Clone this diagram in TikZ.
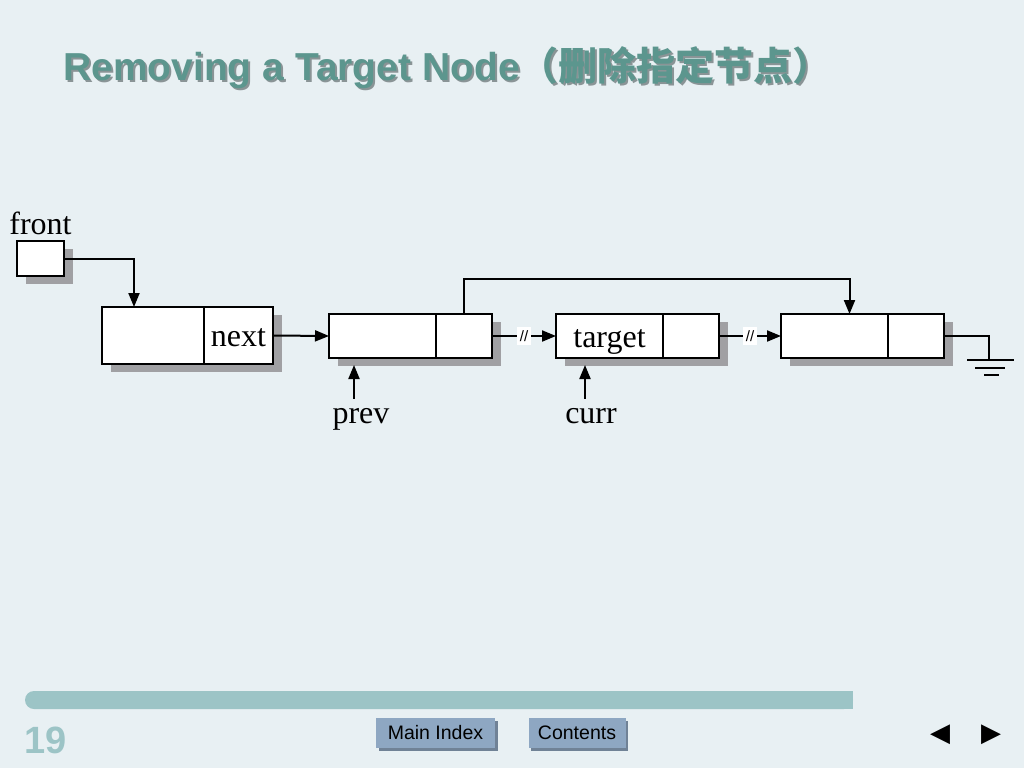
\documentclass[tikz,border=0pt]{standalone}
\usepackage{fontspec}
\setmainfont{Liberation Serif}
\setsansfont{Liberation Sans}
\newfontfamily\cjk{Noto Sans CJK SC}
\newfontfamily\dejavu{DejaVu Sans}
\usetikzlibrary{positioning,shadows,arrows.meta}
\definecolor{slidebg}{RGB}{232,240,243}
\definecolor{titleteal}{RGB}{92,150,142}
\definecolor{titleshade}{RGB}{138,148,150}
\definecolor{barteal}{RGB}{156,196,198}
\definecolor{btnblue}{RGB}{142,167,194}
\definecolor{btnshade}{RGB}{112,130,150}
\definecolor{boxshade}{RGB}{160,160,163}
\newcommand{\slidetitle}{Removing a Target Node{\cjk （删除指定节点）}}
\begin{document}
\begin{tikzpicture}[x=1pt,y=-1pt,
        cell/.style={draw, line width=2.6pt, fill=white, inner sep=0pt, outer sep=0pt,
                minimum height=44pt, font=\fontsize{32}{36}\selectfont,
                text height=22pt, text depth=0pt,
                drop shadow={shadow xshift=9pt, shadow yshift=-8pt, fill=boxshade, opacity=1}},
        datapart/.style={cell, minimum width=107pt},
        linkpart/.style={cell, minimum width=56pt},
        lbl/.style={font=\fontsize{32}{36}\selectfont, text height=22pt, text depth=0pt, inner sep=2pt},
        ptr/.style={line width=2pt, -{Triangle[length=14pt,width=11pt]}},
        wire/.style={line width=2pt},
        brk/.style={fill=white, inner xsep=3pt, inner ysep=3pt, font=\sffamily\fontsize{15}{15}\selectfont},
        titletext/.style={font=\sffamily\bfseries\fontsize{39}{44}\selectfont, inner sep=0pt, anchor=base west},
        btn/.style={fill=btnblue, inner sep=0pt, minimum height=30pt, font=\sffamily\fontsize{19.5}{20}\selectfont,
                drop shadow={shadow xshift=2.5pt, shadow yshift=-2.5pt, fill=btnshade, opacity=1}},
        navbtn/.style={font=\dejavu\fontsize{26}{26}\selectfont, inner sep=0pt}]
        \fill[slidebg] (0,0) rectangle (1024,768);
        \useasboundingbox (0,0) rectangle (1024,768);
        \node[titletext, text=titleshade] (titleshadow) at (65,82) {\slidetitle};
        \node[titletext, text=titleteal] (title) at (63,80) {\slidetitle};
        \node[cell, minimum width=47pt, minimum height=35pt] (frontbox) at (40.5,258.5) {};
        \node[lbl, above=4pt of frontbox] (frontlbl) {front};
        \node[cell, minimum width=102pt, minimum height=57pt, anchor=west] (headd) at (102,335.5) {};
        \node[cell, minimum width=69pt, minimum height=57pt, right=0pt of headd] (headn) {next};
        \foreach \nm/\x/\txt in {prv/329/{}, tgt/556/target, aft/781/{}} {
                \node[datapart, anchor=west] (\nm d) at (\x,336) {\txt};
                \node[linkpart, right=0pt of \nm d] (\nm n) {};
            }
        \node[lbl] (prevlbl) at (361,412) {prev};
        \node[lbl] (currlbl) at (591,412) {curr};
        \coordinate (gnd) at (989,360);
        \draw[ptr] (frontbox.east) -| ([xshift=-19pt]headd.north);
        \draw[ptr] (headn.east) -- (prvd.west);
        \draw[ptr] (prvn.east) -- node[brk] {//} (tgtd.west);
        \draw[ptr] (tgtn.east) -- node[brk] {//} (aftd.west);
        \draw[ptr] (prvn.north) -- ++(0,-35) -| ([xshift=15pt]aftd.north);
        \draw[ptr] ([xshift=-7pt]prevlbl.north) -- ([xshift=-7pt,yshift=-7pt]prevlbl.north |- prvd.south);
        \draw[ptr] ([xshift=-6pt]currlbl.north) -- ([xshift=-6pt,yshift=-7pt]currlbl.north |- tgtd.south);
        \draw[wire] (aftn.east) -| (gnd);
        \draw[wire] ([xshift=-22pt]gnd) -- ([xshift=25pt]gnd);
        \draw[wire] ([xshift=-14pt,yshift=-8pt]gnd) -- ([xshift=16pt,yshift=-8pt]gnd);
        \draw[wire] ([xshift=-5pt,yshift=-15pt]gnd) -- ([xshift=10pt,yshift=-15pt]gnd);
        \fill[barteal, rounded corners=9pt] (25,691) rectangle (853,709);
        \fill[barteal] (830,691) rectangle (853,709);
        \node[font=\sffamily\bfseries\fontsize{38}{40}\selectfont, text=barteal, anchor=base west, inner sep=0pt] (pagenum) at (24,753) {19};
        \node[btn, minimum width=119pt] (mainidx) at (435.5,733) {Main Index};
        \node[btn, minimum width=97pt] (contents) at (577,733) {Contents};
        \node[navbtn] (backbtn) at (940,735) {◀};
        \node[navbtn] (fwdbtn) at (991,735) {▶};
    \end{tikzpicture}
\end{document}
